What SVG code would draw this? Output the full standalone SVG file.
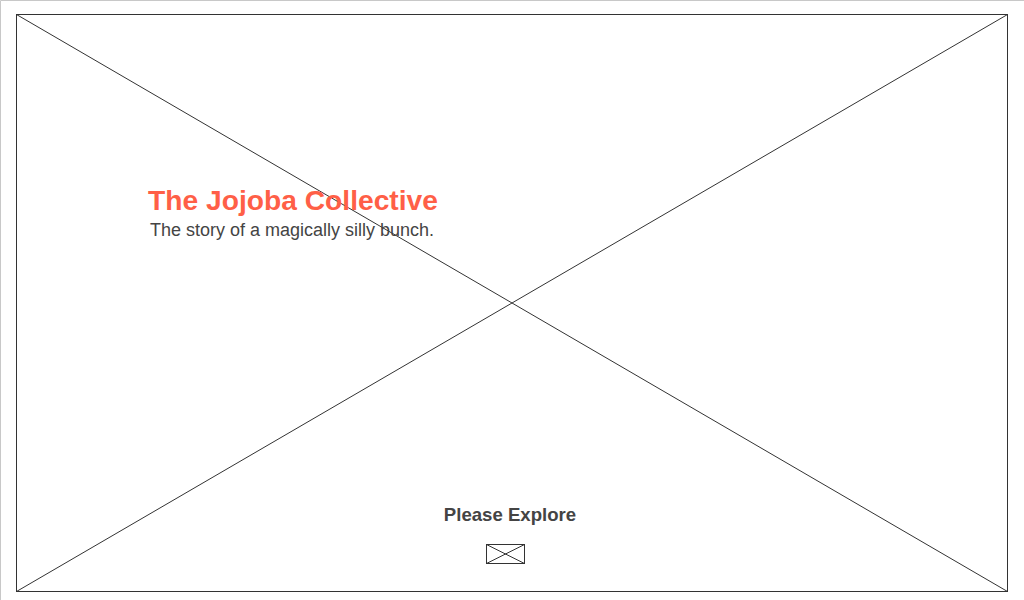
<svg xmlns="http://www.w3.org/2000/svg" width="1024" height="600" viewBox="0 0 1024 600">
<style>
.frame{fill:#ffffff;stroke:#333333;stroke-width:1}
.cross{stroke:#333333;stroke-width:1;fill:none}
.title{font-family:"Liberation Sans",Arial,sans-serif;font-weight:bold;font-size:28.2px;fill:#ff5f47}
.sub{font-family:"Liberation Sans",Arial,sans-serif;font-size:18px;fill:#444444}
.btn{font-family:"Liberation Sans",Arial,sans-serif;font-weight:bold;font-size:18.6px;fill:#444444}
</style>
<rect x="0" y="0" width="1024" height="600" fill="#ffffff"/>
<path d="M0.5,600 V0.5 H1024" fill="none" stroke="#c8c8c8" stroke-width="1"/>
<g id="hero-image">
<rect class="frame" x="16.5" y="14.5" width="991" height="577"/>
</g>
<g id="connectors">
<line class="cross" x1="16.5" y1="14.5" x2="1007.5" y2="591.5"/>
<line class="cross" x1="1007.5" y1="14.5" x2="16.5" y2="591.5"/>
</g>
<g id="title">
<text class="title" x="293" y="210" text-anchor="middle">The Jojoba Collective</text>
</g>
<g id="subtitle">
<text class="sub" x="292" y="235.5" text-anchor="middle">The story of a magically silly bunch.</text>
</g>
<g id="explore">
<text class="btn" x="510" y="521" text-anchor="middle">Please Explore</text>
</g>
<g id="envelope-icon">
<rect x="486.5" y="544.5" width="38" height="19" fill="#ffffff" stroke="#333333" stroke-width="1"/>
<path d="M486.5,544.5 L524.5,563.5 M524.5,544.5 L486.5,563.5" fill="none" stroke="#333333" stroke-width="1"/>
</g>
</svg>
